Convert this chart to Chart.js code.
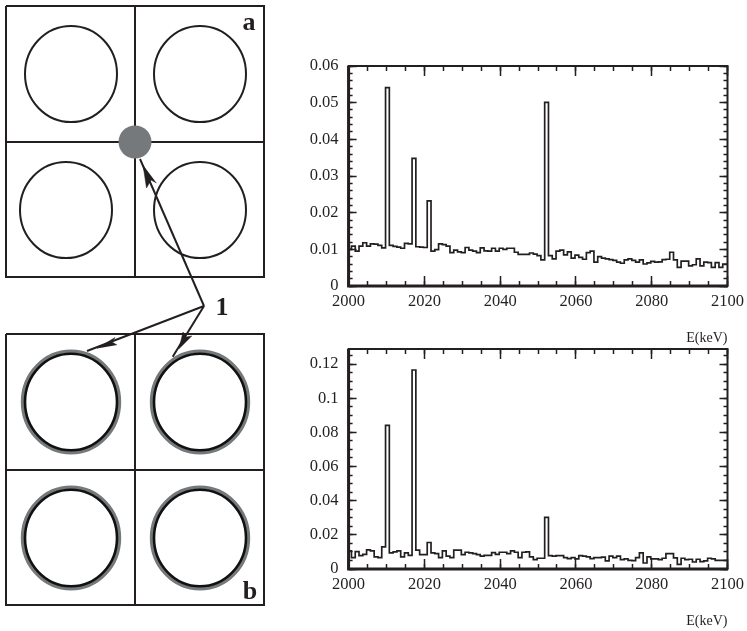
<!DOCTYPE html>
<html lang="en">
<head>
<meta charset="UTF-8" />
<title>Spectra</title>
<script src="https://cdn.jsdelivr.net/npm/chart.js@4/dist/chart.umd.min.js"></script>
<style>
  html, body { margin: 0; padding: 0; background: #fff; }
  body { position: relative; width: 747px; height: 631px; overflow: hidden; }
  canvas { position: absolute; }
  #schema { left: 0; top: 0; }
  #top { left: 290px; top: 50px; }
  #bottom { left: 290px; top: 345px; }
</style>
</head>
<body>
<canvas id="schema" width="290" height="631"></canvas>
<canvas id="top" width="457" height="297"></canvas>
<canvas id="bottom" width="457" height="285"></canvas>
<script>
const INK = '#231f20';
const GREY = '#75797b';
const SERIF = '"Liberation Serif", "Times New Roman", serif';

// spectra, counts per 1 keV bin
const topValues = [
  .0100, .0109, .0095, .0109, .0118, .0109, .0115, .0114, .0111, .0104,
  .0541, .0111, .0108, .0106, .0103, .0116, .0115, .0348, .0107, .0106,
  .0105, .0232, .0095, .0099, .0115, .0113, .0109, .0091, .0098, .0093,
  .0091, .0105, .0098, .0095, .0091, .0104, .0096, .0095, .0103, .0095,
  .0103, .0100, .0103, .0103, .0092, .0086, .0086, .0086, .0090, .0087,
  .0083, .0071, .0501, .0083, .0074, .0095, .0098, .0085, .0093, .0076,
  .0084, .0078, .0073, .0091, .0095, .0065, .0080, .0076, .0074, .0072,
  .0070, .0065, .0062, .0071, .0074, .0070, .0065, .0071, .0060, .0063,
  .0067, .0065, .0066, .0072, .0073, .0092, .0071, .0051, .0068, .0068,
  .0055, .0058, .0074, .0055, .0065, .0064, .0051, .0064, .0051, .0060,
];
const bottomValues = [
  .0106, .0067, .0102, .0078, .0086, .0112, .0106, .0071, .0067, .0129,
  .0841, .0094, .0100, .0106, .0071, .0094, .0080, .1165, .0110, .0084,
  .0084, .0155, .0094, .0090, .0067, .0106, .0075, .0067, .0110, .0110,
  .0084, .0098, .0094, .0090, .0084, .0075, .0080, .0080, .0096, .0086,
  .0098, .0098, .0090, .0106, .0098, .0067, .0098, .0100, .0071, .0055,
  .0063, .0063, .0302, .0078, .0075, .0078, .0078, .0067, .0061, .0067,
  .0059, .0078, .0075, .0071, .0061, .0067, .0067, .0069, .0047, .0075,
  .0067, .0075, .0055, .0059, .0051, .0049, .0067, .0094, .0035, .0071,
  .0059, .0059, .0055, .0063, .0090, .0090, .0065, .0027, .0063, .0055,
  .0057, .0041, .0057, .0043, .0047, .0063, .0059, .0051, .0051, .0051,
];
const FIRST_BIN = 1999.75;

// axes
const xMajor = [2000, 2020, 2040, 2060, 2080, 2100];
const topMajor = [0, 0.01, 0.02, 0.03, 0.04, 0.05, 0.06];
const bottomMajor = [0, 0.02, 0.04, 0.06, 0.08, 0.1, 0.12];
const X_UNIT = 'E(keV)';

// left drawing, in page pixels
const panelA = { frame: [6, 264, 6, 277], midX: 135, midY: 142 };
const panelB = { frame: [6, 264, 334, 605], midX: 135, midY: 470 };
const circlesA = [[71, 74], [200, 74], [66, 210], [200, 210]];
const circlesB = [[71, 402], [200, 402], [71, 538], [200, 538]];
const greyDot = [[135, 142]];
const arrowLines = [
  [[204, 306], [140, 159]],
  [[204, 306], [87, 351]],
  [[204, 306], [172.7, 356.7]],
];
const arrowHeads = [
  [[143, 165], [146.5, 188], [151, 180], [156.5, 183]],
  [[97, 348.5], [115, 337.5], [112, 342], [117, 345]],
  [[179, 349], [183, 332], [186, 337], [192, 336]],
];
const schemaLabels = [
  { text: 'a', x: 249, y: 23 },
  { text: '1', x: 222, y: 308 },
  { text: 'b', x: 250, y: 592 },
];

function toPoints(list) {
  return list.map(([x, y]) => ({ x, y }));
}

function frameSegments(panel) {
  const [l, r, t, b] = panel.frame;
  return [
    [[l, t], [r, t], [r, b], [l, b], [l, t]],
    [[panel.midX, t], [panel.midX, b]],
    [[l, panel.midY], [r, panel.midY]],
  ];
}

// pointStyle image: an outline that is a little taller than wide
function ellipseStyle(rings) {
  const c = document.createElement('canvas');
  c.width = 116;
  c.height = 116;
  const g = c.getContext('2d');
  rings.forEach((ring) => {
    g.beginPath();
    g.ellipse(58, 58, ring.rx, ring.ry, 0, 0, Math.PI * 2);
    g.lineWidth = ring.width;
    g.strokeStyle = ring.color;
    g.stroke();
  });
  return c;
}

function lineSet(list, width) {
  return {
    data: toPoints(list),
    showLine: true,
    borderColor: INK,
    borderWidth: width,
    pointRadius: 0,
    tension: 0,
  };
}

// Chart.js paints the first dataset last, so the top layer goes first
const schemaSets = [];
arrowHeads.forEach((shape) => {
  schemaSets.push(Object.assign(lineSet(shape, 0.5), {
    fill: 'shape',
    backgroundColor: INK,
  }));
});
arrowLines.forEach((seg) => schemaSets.push(lineSet(seg, 2)));
schemaSets.push({
  data: toPoints(greyDot),
  showLine: false,
  pointRadius: 16.5,
  pointBorderWidth: 0,
  pointBackgroundColor: GREY,
});
schemaSets.push({
  data: toPoints(circlesA),
  showLine: false,
  pointRadius: 1,
  pointStyle: ellipseStyle([{ rx: 46, ry: 48, width: 2, color: INK }]),
});
schemaSets.push({
  data: toPoints(circlesB),
  showLine: false,
  pointRadius: 1,
  pointStyle: ellipseStyle([
    { rx: 48.4, ry: 50.7, width: 3.6, color: GREY },
    { rx: 46, ry: 48.3, width: 2.6, color: '#111' },
  ]),
});
frameSegments(panelA).concat(frameSegments(panelB)).forEach((seg) => {
  schemaSets.push(lineSet(seg, 2));
});

const labelPlugin = {
  id: 'schemaLabels',
  afterDatasetsDraw(chart) {
    const { ctx, scales } = chart;
    ctx.save();
    ctx.font = 'bold 26px ' + SERIF;
    ctx.fillStyle = INK;
    ctx.textAlign = 'center';
    ctx.textBaseline = 'middle';
    schemaLabels.forEach((l) => {
      ctx.fillText(l.text, scales.x.getPixelForValue(l.x), scales.y.getPixelForValue(l.y));
    });
    ctx.restore();
  },
};

new Chart(document.getElementById('schema'), {
  type: 'scatter',
  data: { datasets: schemaSets },
  plugins: [labelPlugin],
  options: {
    responsive: false,
    animation: false,
    layout: { autoPadding: false, padding: 0 },
    plugins: { legend: { display: false }, tooltip: { enabled: false } },
    scales: {
      x: { type: 'linear', display: false, min: 0, max: 290 },
      y: { type: 'linear', display: false, min: 0, max: 631, reverse: true },
    },
  },
});

function stepTicks(start, end, step) {
  const out = [];
  const n = Math.floor((end - start) / step + 1e-6);
  for (let i = 0; i <= n; i++) out.push(+(start + i * step).toFixed(4));
  return out;
}

// every side gets its own inward tick scale, only bottom and left carry labels
function tickScale(position, min, max, ticks, length, weight, size) {
  const horizontal = position === 'top' || position === 'bottom';
  return {
    type: 'linear',
    position,
    min,
    max,
    weight,
    afterBuildTicks(scale) {
      scale.ticks = ticks.map((value) => ({ value }));
    },
    afterFit(scale) {
      if (horizontal) scale.height = size;
      else scale.width = size;
      // tick labels may hang over the chart area, keep it where it was put
      scale.paddingTop = scale.paddingBottom = 0;
      scale.paddingLeft = scale.paddingRight = 0;
    },
    border: { display: false },
    grid: {
      drawOnChartArea: false,
      tickLength: -length,
      tickColor: INK,
      tickWidth: 1.5,
    },
    ticks: { display: false, autoSkip: false, maxRotation: 0 },
  };
}

function spectrumChart(id, values, yMax, yMajor, yMinorStep, padTop, xHeight) {
  const data = values.map((y, i) => ({ x: FIRST_BIN + i, y }));
  data.push({ x: 2100, y: values[values.length - 1] });

  const xMinor = stepTicks(2000, 2100, 5);
  const yMinor = stepTicks(0, yMax, yMinorStep);

  const x = tickScale('bottom', 2000, 2100, xMajor, 10, 1, xHeight);
  x.ticks = {
    display: true, autoSkip: false, maxRotation: 0, padding: 15.5,
    color: INK, font: { family: SERIF, size: 16.5 },
    callback: (v) => String(v),
  };
  x.title = {
    display: true, text: X_UNIT, align: 'end', color: INK, padding: 0,
    font: { family: SERIF, size: 14 },
  };
  const y = tickScale('left', 0, yMax, yMajor, 8, 1, 58.6);
  y.ticks = {
    display: true, autoSkip: false, maxRotation: 0, padding: 18,
    color: INK, font: { family: SERIF, size: 16.5 },
    callback: (v) => String(v),
  };

  new Chart(document.getElementById(id), {
    type: 'scatter',
    data: {
      datasets: [{
        data,
        showLine: true,
        stepped: true,
        borderColor: INK,
        borderWidth: 1.7,
        pointRadius: 0,
      }],
    },
    plugins: [{
      id: 'frame',
      beforeDatasetsDraw(chart) {
        const { ctx, chartArea: a } = chart;
        ctx.save();
        ctx.strokeStyle = INK;
        ctx.lineWidth = 2;
        ctx.strokeRect(a.left, a.top, a.right - a.left, a.bottom - a.top);
        // left and bottom sides are printed heavier
        ctx.lineWidth = 3;
        ctx.beginPath();
        ctx.moveTo(a.left, a.top);
        ctx.lineTo(a.left, a.bottom);
        ctx.lineTo(a.right, a.bottom);
        ctx.stroke();
        ctx.restore();
      },
    }],
    options: {
      responsive: false,
      animation: false,
      layout: { autoPadding: false, padding: { top: padTop, right: 19.5, left: 0, bottom: 0 } },
      plugins: { legend: { display: false }, tooltip: { enabled: false } },
      scales: {
        x,
        y,
        xMinor: tickScale('bottom', 2000, 2100, xMinor, 5, 0, 0),
        xTop: tickScale('top', 2000, 2100, xMajor, 10, 1, 0),
        xTopMinor: tickScale('top', 2000, 2100, xMinor, 5, 0, 0),
        yMinor: tickScale('left', 0, yMax, yMinor, 4, 0, 0),
        yRight: tickScale('right', 0, yMax, yMajor, 8, 1, 0),
        yRightMinor: tickScale('right', 0, yMax, yMinor, 4, 0, 0),
      },
    },
  });
}

spectrumChart('top', topValues, 0.06, topMajor, 0.002, 16, 61);
spectrumChart('bottom', bottomValues, 0.1288, bottomMajor, 0.005, 4, 61);
</script>
</body>
</html>
